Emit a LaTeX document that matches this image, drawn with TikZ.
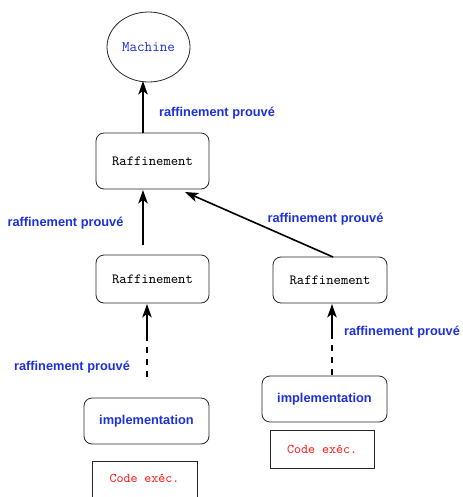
\documentclass[tikz,border=0pt]{standalone}
\usepackage{fontspec}
\setmainfont{Liberation Sans}
\newfontfamily\labfont{Liberation Sans}
\usetikzlibrary{arrows.meta,shapes.geometric}
\definecolor{lblue}{RGB}{28,48,220}
\definecolor{lred}{RGB}{255,20,20}
\begin{document}
\begin{tikzpicture}[x=0.75pt,y=-0.75pt,
  rbox/.style={draw=black!85,line width=0.6pt,rounded corners=6pt,inner sep=0pt,align=center},
  ttext/.style={font=\ttfamily\fontsize{10.5}{12}\selectfont},
  lab/.style={font=\labfont\bfseries\fontsize{9.6}{11}\selectfont,text=lblue,inner sep=0pt},
  arr/.style={line width=1.4pt,-{Stealth[length=10pt,width=7pt,inset=2.5pt]}},
  darr/.style={line width=1.4pt,dash pattern=on 4.5pt off 4.5pt}]
\useasboundingbox (0,0) rectangle (462,497);
% Machine
\node[draw=black!85,line width=0.6pt,ellipse,minimum width=83*0.75pt,minimum height=70*0.75pt,inner sep=0pt,
  font=\ttfamily\fontsize{11}{12}\selectfont,text=lblue] (mach) at (148.5,47) {Machine};
% Raffinement boxes
\node[rbox,ttext,minimum width=113*0.75pt,minimum height=56*0.75pt] (r1) at (152.5,161) {Raffinement};
\node[rbox,ttext,minimum width=113*0.75pt,minimum height=48*0.75pt] (r2) at (152.5,279) {Raffinement};
\node[rbox,ttext,minimum width=114*0.75pt,minimum height=46*0.75pt] (r3) at (330,280) {Raffinement};
% implementation boxes
\node[rbox,lab,minimum width=125*0.75pt,minimum height=46*0.75pt] (i1) at (146.5,421) {implementation};
\node[rbox,lab,minimum width=125*0.75pt,minimum height=46*0.75pt] (i2) at (324.5,399) {implementation};
% code boxes
\draw[black!85,line width=0.6pt] (92,510) -- (92,461) -- (197,461) -- (197,510);
\node[font=\ttfamily\fontsize{10}{12}\selectfont,text=lred] (c1) at (144.5,478) {Code exéc.};
\node[draw=black!85,line width=0.6pt,minimum width=104*0.75pt,minimum height=38*0.75pt,inner sep=0pt,
  font=\ttfamily\fontsize{10}{12}\selectfont,text=lred] (c2) at (322,449) {Code exéc.};
% arrows
\coordinate (a1) at (143,133);
\coordinate (a1e) at (143,81);
\draw[arr] (a1) -- (a1e);
\coordinate (a2) at (143,245);
\coordinate (a2e) at (143,190);
\draw[arr] (a2) -- (a2e);
\coordinate (a3) at (333,257);
\coordinate (a3e) at (185,192);
\draw[line width=1.2pt,-{Stealth[length=10pt,width=7pt,inset=2.5pt]}] (a3) -- (a3e);
\coordinate (d1s) at (147,377);
\coordinate (d1m) at (147,337);
\coordinate (d1e) at (147,304);
\draw[darr] (d1s) -- (d1m);
\draw[arr] (d1m) -- (d1e);
\coordinate (d2s) at (332,375);
\coordinate (d2m) at (332,337);
\coordinate (d2e) at (332,304);
\draw[darr] (d2s) -- (d2m);
\draw[arr] (d2m) -- (d2e);
% labels
\node[lab] (l1) at (217,113) {raffinement prouvé};
\node[lab] (l2) at (65.5,223) {raffinement prouvé};
\node[lab] (l3) at (325.5,219) {raffinement prouvé};
\node[lab] (l4) at (402,332) {raffinement prouvé};
\node[lab] (l5) at (72,367) {raffinement prouvé};
\end{tikzpicture}
\end{document}
